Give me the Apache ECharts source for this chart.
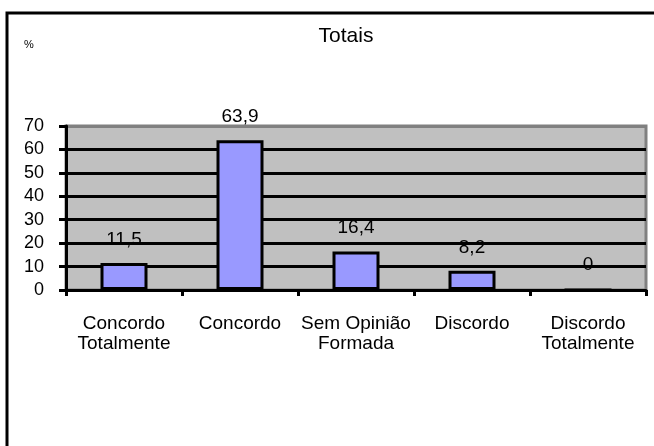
<!DOCTYPE html>
<html>
<head>
<meta charset="utf-8">
<script src="https://cdn.jsdelivr.net/npm/echarts@6/dist/echarts.min.js"></script>
<style>
  html, body { margin: 0; padding: 0; background: #fff; }
  #chart { width: 654px; height: 446px; }
</style>
</head>
<body>
<div id="chart"></div>
<script>
const categories = ['Concordo\nTotalmente', 'Concordo', 'Sem Opinião\nFormada', 'Discordo', 'Discordo\nTotalmente'];
const totais = [11.5, 63.9, 16.4, 8.2, 0];
const yMin = 0, yMax = 70, yStep = 10;

const chartDom = document.getElementById('chart');
const myChart = echarts.init(chartDom, null, {renderer: 'canvas', width: 654, height: 446});
const font = 'Liberation Sans, Arial, sans-serif';

const option = {
  animation: false,
  textStyle: {fontFamily: font},
  title: {
    text: 'Totais',
    left: 341,
    top: 21,
    textAlign: 'center',
    textStyle: {fontSize: 21, fontWeight: 'normal', color: '#000', fontFamily: font}
  },
  graphic: [
    {
      type: 'rect',
      shape: {x: 7, y: 13, width: 700, height: 500},
      style: {fill: 'none', stroke: '#000', lineWidth: 3},
      z: -10
    },
    {
      type: 'text',
      left: 24,
      top: 39,
      style: {text: '%', fontSize: 11, fill: '#000', fontFamily: font}
    }
  ],
  grid: {
    left: 66,
    right: 8,
    top: 126,
    bottom: 156,
    show: true,
    backgroundColor: '#c0c0c0',
    borderColor: '#808080',
    borderWidth: 3
  },
  xAxis: {
    type: 'category',
    data: categories,
    axisLine: {lineStyle: {color: '#000', width: 3}},
    axisTick: {show: true, length: 6, lineStyle: {color: '#000', width: 3}},
    axisLabel: {
      color: '#000',
      fontSize: 19,
      lineHeight: 20,
      margin: 24,
      interval: 0,
      fontFamily: font
    }
  },
  yAxis: {
    type: 'value',
    min: yMin,
    max: yMax,
    interval: yStep,
    axisLine: {show: true, lineStyle: {color: '#000', width: 3}},
    axisTick: {show: true, length: 7, lineStyle: {color: '#000', width: 3}},
    axisLabel: {color: '#000', fontSize: 18, margin: 22, fontFamily: font},
    splitLine: {
      show: true,
      lineStyle: {
        color: ['transparent', '#000', '#000', '#000', '#000', '#000', '#000', '#808080'],
        width: 3
      }
    }
  },
  series: [
    {
      name: 'Totais',
      type: 'bar',
      data: totais,
      barWidth: 47,
      itemStyle: {color: '#9999ff', borderColor: '#000', borderWidth: 3},
      label: {
        show: true,
        position: 'top',
        distance: 14,
        color: '#000',
        fontSize: 19,
        fontFamily: font,
        formatter: p => String(p.value).replace('.', ',')
      }
    }
  ]
};

option && myChart.setOption(option);
</script>
</body>
</html>
